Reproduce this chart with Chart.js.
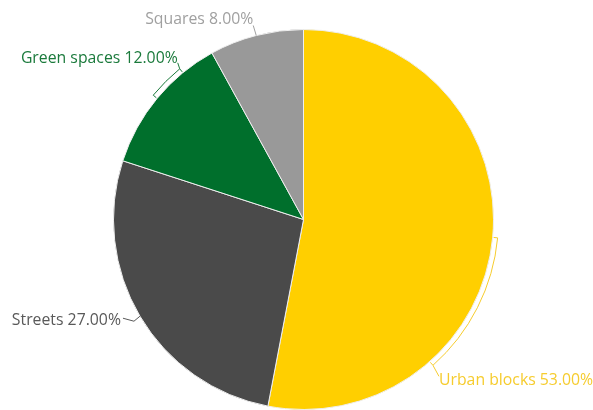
<!DOCTYPE html>
<html>
<head>
<meta charset="utf-8">
<style>
  html, body { margin: 0; padding: 0; background: #ffffff; overflow: hidden; }
  #wrap { position: relative; width: 593px; height: 410px; }
</style>
<script src="https://cdn.jsdelivr.net/npm/chart.js@4/dist/chart.umd.min.js"></script>
</head>
<body>
<div id="wrap"><canvas id="c" width="593" height="410"></canvas></div>
<script>
// ---- data ----
const categories = ["Urban blocks", "Streets", "Green spaces", "Squares"];
const shares = [53, 27, 12, 8];
const sliceColors = ["#FFCF00", "#4A4A4A", "#006F2C", "#999999"];
const labelColors = ["#F6CC2E", "#595959", "#1B7A3C", "#A0A0A0"];

// ---- label layout (style only) ----
const labelStyle = [
  { kind: "bracket", span: 43, lead: [6, 11], align: "left", textDy: 4 },
  { kind: "line", pts: [[-6, 5], [-17, 2]], align: "right", textDx: -2, textDy: 2 },
  { kind: "bracket", span: 11, lead: [-2, -6], align: "right", textDy: -4 },
  { kind: "line", pts: [[-3, -10]], align: "right", textDx: 0, textDy: -6 }
];

const labelPlugin = {
  id: "sliceLabels",
  afterDatasetsDraw(chart) {
    const ctx = chart.ctx;
    const meta = chart.getDatasetMeta(0);
    const total = shares.reduce((a, b) => a + b, 0);
    ctx.save();
    ctx.font = "15.8px 'Open Sans'";
    ctx.textBaseline = "middle";
    ctx.lineWidth = 1;
    meta.data.forEach((arc, i) => {
      const p = arc.getProps(["x", "y", "startAngle", "endAngle", "outerRadius"], true);
      const mid = (p.startAngle + p.endAngle) / 2;
      const r = p.outerRadius;
      const st = labelStyle[i];
      const col = labelColors[i];
      ctx.strokeStyle = col;
      ctx.fillStyle = col;
      const pt = (a, rr) => [p.x + rr * Math.cos(a), p.y + rr * Math.sin(a)];
      const txt = categories[i] + " " + (shares[i] / total * 100).toFixed(2) + "%";
      ctx.beginPath();
      if (st.kind === "bracket") {
        const a0 = mid, a1 = mid + st.span * Math.PI / 180;
        const rb = r + 5;
        const s0 = pt(a0, r + 1), s1 = pt(a0, rb);
        ctx.moveTo(s0[0], s0[1]);
        ctx.lineTo(s1[0], s1[1]);
        ctx.arc(p.x, p.y, rb, a0, a1, false);
        const e1 = pt(a1, r + 1);
        const e0 = pt(a1, rb);
        ctx.lineTo(e1[0], e1[1]);
        ctx.moveTo(e0[0], e0[1]);
        const anchor = [e0[0] + st.lead[0], e0[1] + st.lead[1]];
        ctx.lineTo(anchor[0], anchor[1]);
        ctx.stroke();
        ctx.textAlign = st.align;
        ctx.fillText(txt, anchor[0], anchor[1] + st.textDy);
      } else {
        const s = pt(mid, r);
        ctx.moveTo(s[0], s[1]);
        let last = s;
        st.pts.forEach(d => {
          last = [s[0] + d[0], s[1] + d[1]];
          ctx.lineTo(last[0], last[1]);
        });
        ctx.stroke();
        ctx.textAlign = st.align;
        ctx.fillText(txt, last[0] + (st.textDx || 0), last[1] + st.textDy);
      }
    });
    ctx.restore();
  }
};

new Chart(document.getElementById("c"), {
  type: "pie",
  data: {
    labels: categories,
    datasets: [{
      data: shares,
      backgroundColor: sliceColors,
      borderColor: "#EEEEEE",
      borderWidth: 1
    }]
  },
  options: {
    responsive: false,
    animation: false,
    layout: { padding: { top: 29, bottom: 0, left: 113, right: 99 } },
    plugins: {
      legend: { display: false },
      tooltip: { enabled: false }
    }
  },
  plugins: [labelPlugin]
});
</script>
</body>
</html>
